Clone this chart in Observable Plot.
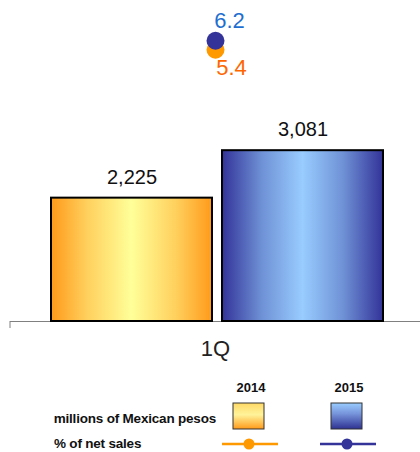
<!DOCTYPE html>
<html>
<head>
<meta charset="utf-8">
<script src="https://cdn.jsdelivr.net/npm/d3@7"></script>
<script src="https://cdn.jsdelivr.net/npm/@observablehq/plot@0.6"></script>
<style>
  html, body { margin: 0; padding: 0; background: #fff; }
  #chart { position: relative; width: 420px; height: 452px; overflow: hidden; font-family: "Liberation Sans", Arial, sans-serif; }
  #chart > svg { position: absolute; left: 0; top: 0; }
</style>
</head>
<body>
<div id="chart"></div>
<script>
// ---- data ----
const quarters = ["1Q"];
const years = ["2014", "2015"];
const salesMillions = [2225, 3081];
const pctNetSales = [5.4, 6.2];
const seriesColors = ["#FF9900", "#333399"];
const pctLabelColors = ["#FF6600", "#1F6FD1"];
const legendTitles = ["millions of Mexican pesos", "% of net sales"];

const data = years.map((year, i) => ({
  quarter: quarters[0], year, sales: salesMillions[i], pct: pctNetSales[i]
}));

const W = 420, H = 370;
const margins = { marginLeft: 10, marginRight: 0, marginTop: 0, marginBottom: 49 };
const fontFamily = "'Liberation Sans', Arial, sans-serif";

// gradient definitions (SVG defs as a function mark)
const NS = "http://www.w3.org/2000/svg";
function gradient(id, stops, vertical) {
  const g = document.createElementNS(NS, "linearGradient");
  g.setAttribute("id", id);
  g.setAttribute("x1", "0"); g.setAttribute("y1", "0");
  g.setAttribute("x2", vertical ? "0" : "1"); g.setAttribute("y2", vertical ? "1" : "0");
  for (const [o, c] of stops) {
    const s = document.createElementNS(NS, "stop");
    s.setAttribute("offset", o); s.setAttribute("stop-color", c);
    g.appendChild(s);
  }
  return g;
}
const barStops = {
  "2014": [[0, "#FF9A1A"], [0.22, "#FFCF5C"], [0.5, "#FFFF99"], [0.78, "#FFCF5C"], [1, "#FF9A1A"]],
  "2015": [[0, "#333399"], [0.25, "#6F92D6"], [0.5, "#99CCFF"], [0.75, "#6F92D6"], [1, "#333399"]]
};
const defsMark = () => {
  const d = document.createElementNS(NS, "defs");
  for (const y of years) d.appendChild(gradient("bar" + y, barStops[y], false));
  return d;
};

// ---- main bar chart ----
const bars = Plot.plot({
  width: W, height: H, ...margins,
  style: { fontFamily, fontSize: "22px", color: "#222", background: "transparent", overflow: "visible" },
  fx: { domain: quarters, padding: 0, axis: "bottom", label: null, tickSize: 0, tickPadding: 19 },
  x: { domain: years, axis: null, paddingInner: 0.06, paddingOuter: 0.225, align: 0.52 },
  y: { domain: [0, 5790], axis: null },
  marks: [
    defsMark,
    Plot.ruleY([0], { stroke: "#808080", strokeWidth: 1 }),
    ...years.map(yr => Plot.barY(data.filter(d => d.year === yr), {
      fx: "quarter", x: "year", y: "sales",
      fill: `url(#bar${yr})`, stroke: "#000", strokeWidth: 2
    })),
    Plot.text(data, {
      fx: "quarter", x: "year", y: "sales",
      text: d => d3.format(",")(d.sales),
      dy: -21, fontSize: 20, fill: "#111"
    })
  ]
});

// small tick at the left end of the category axis
{
  const y0 = bars.scale("y").apply(0);
  d3.select(bars).append("line")
    .attr("x1", margins.marginLeft).attr("x2", margins.marginLeft)
    .attr("y1", y0).attr("y2", y0 + 7)
    .attr("stroke", "#808080").attr("stroke-width", 1);
}

// ---- % of net sales (secondary scale, overlaid) ----
const dotOffsets = { "2014": { dx: 16, dy: 18 }, "2015": { dx: 14, dy: -20 } };
const dots = Plot.plot({
  width: W, height: H, ...margins,
  style: { fontFamily, background: "transparent", overflow: "visible" },
  fx: { domain: quarters, padding: 0, axis: null },
  y: { domain: [0, 10], range: [110, -2.5], axis: null },
  marks: years.flatMap((yr, i) => [
    Plot.dot(data.filter(d => d.year === yr), {
      fx: "quarter", y: "pct", r: 9, fill: seriesColors[i], stroke: "none"
    })
  ]).concat(years.map((yr, i) =>
    Plot.text(data.filter(d => d.year === yr), {
      fx: "quarter", y: "pct", text: d => d3.format(".1f")(d.pct),
      dx: dotOffsets[yr].dx, dy: dotOffsets[yr].dy, fontSize: 22, fill: pctLabelColors[i]
    })
  ))
});

const chart = document.getElementById("chart");
chart.appendChild(bars);
chart.appendChild(dots);

// ---- legend (below the SVG) ----
const leg = d3.select(chart).append("svg")
  .attr("width", W).attr("height", 82)
  .style("top", "370px")
  .style("font-family", fontFamily);
const ldefs = leg.append("defs");
ldefs.node().appendChild(gradient("leg2014", [[0, "#FFD966"], [0.45, "#FFF39A"], [1, "#FF9A1A"]], true));
ldefs.node().appendChild(gradient("leg2015", [[0, "#99CCFF"], [0.4, "#7896DC"], [1, "#2E3192"]], true));
const colX = [249, 347];
years.forEach((yr, i) => {
  leg.append("text").attr("x", colX[i] + 2).attr("y", 22).attr("text-anchor", "middle")
    .attr("font-size", 13).attr("font-weight", "bold").attr("fill", "#111").text(yr);
  leg.append("rect").attr("x", colX[i] - 16).attr("y", 33).attr("width", 31).attr("height", 26)
    .attr("fill", `url(#leg${yr})`).attr("stroke", "#333").attr("stroke-width", 1);
  leg.append("line").attr("x1", colX[i] - 27).attr("x2", colX[i] + 29).attr("y1", 74).attr("y2", 74)
    .attr("stroke", seriesColors[i]).attr("stroke-width", 2.5);
  leg.append("circle").attr("cx", colX[i]).attr("cy", 74).attr("r", 5.5).attr("fill", seriesColors[i]);
});
leg.append("text").attr("x", 216).attr("y", 53).attr("text-anchor", "end")
  .attr("font-size", 13.5).attr("font-weight", "bold").attr("letter-spacing", -0.2)
  .attr("fill", "#111").text(legendTitles[0]);
leg.append("text").attr("x", 54).attr("y", 78).attr("text-anchor", "start")
  .attr("font-size", 13.5).attr("font-weight", "bold").attr("letter-spacing", -0.2)
  .attr("fill", "#111").text(legendTitles[1]);
</script>
</body>
</html>
